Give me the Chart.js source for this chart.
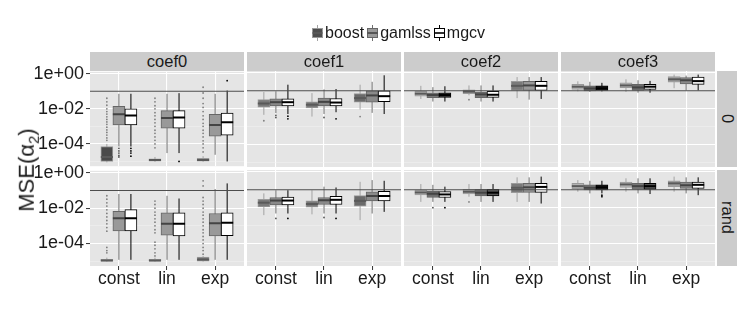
<!DOCTYPE html>
<html><head><meta charset="utf-8">
<script src="https://cdn.jsdelivr.net/npm/chart.js@4"></script>
<style>
html,body{margin:0;padding:0;background:#fff;}
#fig{position:relative;width:747px;height:312px;overflow:hidden;font-family:"Liberation Sans",Arial,Helvetica,sans-serif;}
#fig canvas{position:absolute;}
.strip{position:absolute;background:#cccccc;color:#1a1a1a;font-size:16.5px;display:flex;align-items:center;justify-content:center;}
.stripR{writing-mode:vertical-rl;}
#legend{position:absolute;left:312px;top:24px;height:18px;display:flex;align-items:center;font-size:16px;color:#1a1a1a;}
#legend .item{display:flex;align-items:center;margin-right:3px;}
#legend svg{margin-right:2px;}
#ytitle{position:absolute;left:28px;top:170px;transform:translate(-50%,-50%) rotate(-90deg);font-size:22px;white-space:nowrap;color:#1a1a1a;}
#ytitle sub{font-size:15px;}
</style></head>
<body><div id="fig"></div>
<script>
// ---------- data ----------
const coefs = ['coef0','coef1','coef2','coef3'];
const priors = ['0','rand'];
const categories = ['const','lin','exp'];
const methods = ['boost','gamlss','mgcv'];
const yMajorTicks = [1e-4, 1e-2, 1];
const yTickLabels = ['1e-04','1e-02','1e+00'];
const yMinorTicks = [1e-5, 1e-3, 1e-1];
const referenceMSE = 0.1;

// each row: [lower whisker, Q1, median, Q3, upper whisker] for const, lin, exp
const coef0_0_boost  = [[8.9e-6,1e-5,1.8e-5,7.1e-5,1e-4],[9.5e-6,1.05e-5,1.2e-5,1.4e-5,1.8e-5],[9.5e-6,1.05e-5,1.2e-5,1.5e-5,2e-5]];
const coef0_0_gamlss = [[7.1e-5,1.2e-3,4.9e-3,1.4e-2,7.2e-2],[3e-5,7.9e-4,3e-3,7.9e-3,7.2e-2],[2.4e-5,2.8e-4,1.2e-3,4.9e-3,7.2e-2]];
const coef0_0_mgcv   = [[7.1e-5,1.2e-3,4.1e-3,1e-2,7.2e-2],[3e-5,7.9e-4,3.2e-3,7.9e-3,7.8e-2],[1e-5,3.2e-4,1.7e-3,5.8e-3,0.11]];
const coef0_rand_boost  = [[9.5e-6,1e-5,1.1e-5,1.3e-5,1.6e-5],[9.5e-6,1e-5,1.1e-5,1.3e-5,1.6e-5],[9.5e-6,1e-5,1.26e-5,1.7e-5,2e-5]];
const coef0_rand_gamlss = [[1.2e-5,5.1e-4,2.7e-3,6.6e-3,6.3e-2],[1.2e-5,3e-4,1.3e-3,5.4e-3,5e-2],[1.2e-5,2.7e-4,1.4e-3,5e-3,0.12]];
const coef0_rand_mgcv   = [[1.2e-5,5.1e-4,2.7e-3,8.3e-3,6.3e-2],[1.2e-5,2.7e-4,1.3e-3,5.4e-3,3.5e-2],[1.2e-5,2.8e-4,1.5e-3,5.4e-3,0.25]];
const coef1_0_boost  = [[4.5e-3,1.2e-2,1.95e-2,3.2e-2,8.5e-2],[3.6e-3,1.1e-2,1.66e-2,2.4e-2,7.4e-2],[8.9e-3,2.3e-2,3.9e-2,7.1e-2,0.22]];
const coef1_0_gamlss = [[5.6e-3,1.4e-2,2.3e-2,3.5e-2,9.5e-2],[5e-3,1.4e-2,2.4e-2,3.9e-2,0.12],[5.8e-3,2.3e-2,5.5e-2,0.1,0.32]];
const coef1_0_mgcv   = [[5e-3,1.4e-2,2.3e-2,3.5e-2,0.22],[6.3e-3,1.4e-2,2.2e-2,3.7e-2,0.126],[5e-3,2.5e-2,5e-2,0.1,0.74]];
const coef1_rand_boost  = [[3.8e-3,1.1e-2,1.9e-2,2.9e-2,6.3e-2],[4.2e-3,1.07e-2,1.6e-2,2.4e-2,9.5e-2],[2e-3,1.2e-2,2.4e-2,4.7e-2,0.28]];
const coef1_rand_gamlss = [[4.7e-3,1.4e-2,2.5e-2,3.7e-2,9.5e-2],[4.7e-3,1.5e-2,2.6e-2,3.7e-2,0.15],[4.7e-3,2.4e-2,4.5e-2,7.8e-2,0.35]];
const coef1_rand_mgcv   = [[4.7e-3,1.4e-2,2.5e-2,3.9e-2,9.5e-2],[4.7e-3,1.5e-2,2.75e-2,4.3e-2,0.135],[5.8e-3,2.4e-2,4.5e-2,8.3e-2,0.32]];
const coef2_0_boost  = [[3.5e-2,5e-2,6.9e-2,9.3e-2,0.19],[5.6e-2,6.9e-2,8.9e-2,0.115,0.2],[3.9e-2,0.105,0.19,0.34,0.59]];
const coef2_0_gamlss = [[2.5e-2,4.1e-2,5.8e-2,7.8e-2,0.16],[2.5e-2,4.1e-2,6.3e-2,8.5e-2,0.2],[3.2e-2,0.105,0.2,0.34,0.59]];
const coef2_0_mgcv   = [[2.5e-2,4.3e-2,5.8e-2,7.8e-2,0.18],[2.5e-2,4.3e-2,6e-2,9.3e-2,0.2],[3.5e-2,0.105,0.19,0.34,0.59]];
const coef2_rand_boost  = [[2.1e-2,5.2e-2,7.1e-2,9.8e-2,0.21],[4.1e-2,5.8e-2,7.8e-2,0.105,0.21],[2.1e-2,6.9e-2,0.13,0.23,0.5]];
const coef2_rand_gamlss = [[2.1e-2,3.7e-2,6e-2,8.5e-2,0.19],[2.1e-2,4.5e-2,6.9e-2,0.105,0.21],[2.1e-2,7.2e-2,0.138,0.23,0.5]];
const coef2_rand_mgcv   = [[2.1e-2,3.7e-2,5.5e-2,7.9e-2,0.15],[2.1e-2,4.5e-2,6.9e-2,0.105,0.21],[1.7e-2,7.2e-2,0.145,0.23,0.55]];
const coef3_0_boost  = [[9.3e-2,0.12,0.17,0.23,0.34],[8.7e-2,0.148,0.2,0.28,0.44],[0.14,0.3,0.44,0.62,0.81]];
const coef3_0_gamlss = [[8.7e-2,9.8e-2,0.135,0.19,0.32],[7.8e-2,0.105,0.155,0.23,0.39],[0.105,0.24,0.39,0.55,0.71]];
const coef3_0_mgcv   = [[9.3e-2,0.105,0.138,0.19,0.28],[7.8e-2,0.12,0.17,0.23,0.36],[0.105,0.23,0.35,0.59,0.81]];
const coef3_rand_boost  = [[7.8e-2,0.115,0.16,0.23,0.35],[7.8e-2,0.138,0.2,0.275,0.44],[7.8e-2,0.148,0.23,0.32,0.55]];
const coef3_rand_gamlss = [[6.3e-2,9.8e-2,0.13,0.19,0.32],[6.3e-2,0.105,0.16,0.23,0.44],[6.3e-2,0.12,0.18,0.275,0.5]];
const coef3_rand_mgcv   = [[6.3e-2,9.8e-2,0.138,0.19,0.32],[5.8e-2,0.105,0.16,0.23,0.44],[5e-2,0.12,0.19,0.275,0.5]];

// outliers per category [const, lin, exp]
const coef0_0_boost_out = [[4e-2,2.5e-2,1.6e-2,1e-2,7e-3,5e-3,3.5e-3,2.5e-3,1.8e-3,1.3e-3,9e-4,6.3e-4,4.5e-4,3.2e-4,2.2e-4,1.6e-4],
  [4e-2,2.5e-2,1.5e-2,1e-2,6e-3,4e-3,2.5e-3,1.6e-3,1e-3,6e-4,4e-4,2.5e-4,1.6e-4,1e-4,6e-5],
  [1.7e-1,8e-2,4e-2,2e-2,1.2e-2,7e-3,4e-3,2.5e-3,1.5e-3,1e-3,6e-4,4e-4,2.5e-4,1.5e-4,1e-4,6e-5,3.5e-5]];
const coef0_0_gamlss_out = [[5.6e-5,4e-5,3e-5,2.2e-5,1.8e-5],[],[]];
const coef0_0_mgcv_out = [[5.6e-5,4e-5,3e-5,2e-5],[1e-5],[0.4]];
const coef0_rand_boost_out = [[5e-2,3.2e-2,2e-2,1.3e-2,8e-3,5e-3,3.2e-3,2e-3,1.3e-3,8e-4,5e-4,6e-5,4e-5,3e-5],
  [2.5e-2,1.6e-2,1e-2,6e-3,4e-3,2.5e-3,1.6e-3,1e-3,6e-4,4e-4,1.2e-4,8e-5,5e-5,3e-5,2e-5],
  [3.5e-1,1.8e-1,4e-2,2.5e-2,1.6e-2,1e-2,6e-3,4e-3,2.5e-3,1.6e-3,1e-3,6e-4,4e-4,2.5e-4,1.6e-4,1e-4,6e-5,4e-5,2.5e-5]];
const coef0_rand_gamlss_out = [[],[],[]];
const coef0_rand_mgcv_out = [[],[],[]];
const coef1_0_boost_out = [[2.1e-3],[],[3.6e-3]];
const coef1_0_gamlss_out = [[4.2e-3,3.2e-3],[3.2e-3],[]];
const coef1_0_mgcv_out = [[3.8e-3,2.7e-3],[2.7e-3],[]];
const coef1_rand_boost_out = [[],[],[]];
const coef1_rand_gamlss_out = [[2.5e-3],[2.8e-3],[]];
const coef1_rand_mgcv_out = [[2.5e-3],[2.5e-3],[]];
const coef2_0_boost_out = [[],[3.2e-2],[]];
const coef2_0_gamlss_out = [[],[],[]];
const coef2_0_mgcv_out = [[],[],[]];
const coef2_rand_boost_out = [[],[2.1e-2],[]];
const coef2_rand_gamlss_out = [[1e-2],[],[]];
const coef2_rand_mgcv_out = [[1e-2],[],[]];
const coef3_0_boost_out = [[],[],[]];
const coef3_0_gamlss_out = [[],[],[]];
const coef3_0_mgcv_out = [[],[],[]];
const coef3_rand_boost_out = [[],[],[]];
const coef3_rand_gamlss_out = [[],[],[]];
const coef3_rand_mgcv_out = [[5e-2,4.1e-2],[],[]];

// lookup tables built from the named arrays
const statsTable = {
  coef0: {'0': {boost: coef0_0_boost, gamlss: coef0_0_gamlss, mgcv: coef0_0_mgcv},
          'rand': {boost: coef0_rand_boost, gamlss: coef0_rand_gamlss, mgcv: coef0_rand_mgcv}},
  coef1: {'0': {boost: coef1_0_boost, gamlss: coef1_0_gamlss, mgcv: coef1_0_mgcv},
          'rand': {boost: coef1_rand_boost, gamlss: coef1_rand_gamlss, mgcv: coef1_rand_mgcv}},
  coef2: {'0': {boost: coef2_0_boost, gamlss: coef2_0_gamlss, mgcv: coef2_0_mgcv},
          'rand': {boost: coef2_rand_boost, gamlss: coef2_rand_gamlss, mgcv: coef2_rand_mgcv}},
  coef3: {'0': {boost: coef3_0_boost, gamlss: coef3_0_gamlss, mgcv: coef3_0_mgcv},
          'rand': {boost: coef3_rand_boost, gamlss: coef3_rand_gamlss, mgcv: coef3_rand_mgcv}}
};
const outTable = {
  coef0: {'0': {boost: coef0_0_boost_out, gamlss: coef0_0_gamlss_out, mgcv: coef0_0_mgcv_out},
          'rand': {boost: coef0_rand_boost_out, gamlss: coef0_rand_gamlss_out, mgcv: coef0_rand_mgcv_out}},
  coef1: {'0': {boost: coef1_0_boost_out, gamlss: coef1_0_gamlss_out, mgcv: coef1_0_mgcv_out},
          'rand': {boost: coef1_rand_boost_out, gamlss: coef1_rand_gamlss_out, mgcv: coef1_rand_mgcv_out}},
  coef2: {'0': {boost: coef2_0_boost_out, gamlss: coef2_0_gamlss_out, mgcv: coef2_0_mgcv_out},
          'rand': {boost: coef2_rand_boost_out, gamlss: coef2_rand_gamlss_out, mgcv: coef2_rand_mgcv_out}},
  coef3: {'0': {boost: coef3_0_boost_out, gamlss: coef3_0_gamlss_out, mgcv: coef3_0_mgcv_out},
          'rand': {boost: coef3_rand_boost_out, gamlss: coef3_rand_gamlss_out, mgcv: coef3_rand_mgcv_out}}
};

// ---------- styles ----------
const W = '#ffffff';
const boxFills = {
  coef0: {'0': {boost:['#4a4a4a','#8c8c8c','#8c8c8c'], gamlss:['#999999','#999999','#999999'], mgcv:[W,W,W]},
          'rand': {boost:['#9a9a9a','#9a9a9a','#7a7a7a'], gamlss:['#999999','#999999','#999999'], mgcv:[W,W,W]}},
  coef1: {'0': {boost:['#7a7a7a','#7a7a7a','#6a6a6a'], gamlss:['#8a8a8a','#8a8a8a','#8a8a8a'], mgcv:[W,W,W]},
          'rand': {boost:['#7a7a7a','#7a7a7a','#6a6a6a'], gamlss:['#8a8a8a','#8a8a8a','#8a8a8a'], mgcv:[W,W,W]}},
  coef2: {'0': {boost:['#b3b3b3','#b3b3b3','#7a7a7a'], gamlss:['#777777','#777777','#999999'], mgcv:['#444444',W,W]},
          'rand': {boost:['#b3b3b3','#b3b3b3','#7a7a7a'], gamlss:['#6e6e6e','#6e6e6e','#999999'], mgcv:[W,'#555555',W]}},
  coef3: {'0': {boost:['#b3b3b3','#b3b3b3','#a0a0a0'], gamlss:['#6e6e6e','#6e6e6e','#8a8a8a'], mgcv:['#222222',W,W]},
          'rand': {boost:['#b3b3b3','#b3b3b3','#a0a0a0'], gamlss:['#777777','#777777','#8a8a8a'], mgcv:['#222222','#555555',W]}}
};
const methodStyle = {
  boost:  {line:'#a3a3a3', dot:'#7f7f7f', border:'#9a9a9a', median:'#5a5a5a', offset:-0.25, order:10, key:'#4d4d4d'},
  gamlss: {line:'#6e6e6e', dot:'#555555', border:'#666666', median:'#444444', offset:0,     order:6,  key:'#999999'},
  mgcv:   {line:'#000000', dot:'#000000', border:'#000000', median:'#000000', offset:0.25,  order:2,  key:'#ffffff'}
};
const X_MIN = 0.4, X_MAX = 3.6, BOX_W = 0.25;
const Y_MIN = Math.pow(10, -5.27), Y_MAX = Math.pow(10, 0.11);
const PAD = 12, Y_AXIS_W = 78, X_AXIS_H = 30;
const COL_LEFT = [90, 247, 404, 561], PANEL_W = 154;
const ROW_TOP = [71, 170], PANEL_H = 96;
const FONT = '"Liberation Sans", Arial, Helvetica, sans-serif';
const xTickValues = [1, 2, 3];
const yGridValues = [1e-5, 1e-4, 1e-3, 1e-2, 1e-1, 1];

const panelBg = {
  id: 'panelBg',
  beforeDraw(chart) {
    const a = chart.chartArea, ctx = chart.ctx;
    ctx.save(); ctx.fillStyle = '#e5e5e5';
    ctx.fillRect(a.left, a.top, a.right - a.left, a.bottom - a.top);
    ctx.restore();
  }
};

function buildDatasets(coef, prior) {
  const ds = [];
  const boxPx = PANEL_W / (X_MAX - X_MIN) * BOX_W;
  methods.forEach(m => {
    const st = methodStyle[m];
    const s = statsTable[coef][prior][m];
    const outs = outTable[coef][prior][m];
    const xs = categories.map((c, i) => xTickValues[i] + st.offset);
    ds.push({
      type: 'scatter', showLine: true, spanGaps: false, order: st.order + 3,
      borderColor: st.line, borderWidth: 1, pointRadius: 0,
      data: xs.flatMap((x, i) => [{x, y: s[i][0]}, {x, y: s[i][4]}, {x, y: null}])
    });
    ds.push({
      type: 'scatter', order: st.order + 2, pointRadius: 0.9, pointBorderWidth: 0,
      pointBackgroundColor: st.dot, borderColor: st.dot,
      data: xs.flatMap((x, i) => outs[i].map(v => ({x, y: v})))
    });
    ds.push({
      type: 'bar', grouped: false, order: st.order + 1, barThickness: boxPx,
      borderSkipped: false, borderWidth: 1, borderColor: st.border,
      backgroundColor: boxFills[coef][prior][m],
      data: xs.map((x, i) => ({x, y: [s[i][1], s[i][3]]}))
    });
    ds.push({
      type: 'scatter', order: st.order, pointStyle: 'line', pointRadius: boxPx / 2,
      pointBorderWidth: 2, pointBorderColor: st.median, borderColor: st.median,
      data: xs.map((x, i) => ({x, y: s[i][2]}))
    });
  });
  ds.push({
    type: 'scatter', showLine: true, order: 0, borderColor: '#4d4d4d', borderWidth: 1.1, pointRadius: 0,
    data: [{x: X_MIN, y: referenceMSE}, {x: X_MAX, y: referenceMSE}]
  });
  return ds;
}

const fig = document.getElementById('fig');

coefs.forEach((coef, c) => priors.forEach((prior, r) => {
  const showY = c === 0, showX = r === 1;
  const axW = showY ? Y_AXIS_W : 0, axH = showX ? X_AXIS_H : 0;
  const cv = document.createElement('canvas');
  cv.width = PAD * 2 + axW + PANEL_W;
  cv.height = PAD * 2 + PANEL_H + axH;
  cv.style.left = (COL_LEFT[c] - PAD - axW) + 'px';
  cv.style.top = (ROW_TOP[r] - PAD) + 'px';
  fig.appendChild(cv);
  new Chart(cv, {
    type: 'bar',
    data: { datasets: buildDatasets(coef, prior) },
    plugins: [panelBg],
    options: {
      responsive: false, animation: false, events: [],
      layout: { padding: PAD },
      plugins: { legend: {display: false}, tooltip: {enabled: false}, title: {display: false} },
      scales: {
        x: {
          type: 'linear', min: X_MIN, max: X_MAX, offset: false, bounds: 'data',
          afterBuildTicks: s => { s.ticks = xTickValues.map(v => ({value: v})); },
          afterFit: s => { s.height = axH; },
          border: { display: false },
          grid: { color: '#ffffff', lineWidth: 1.1, offset: false, drawTicks: showX, tickLength: 4, tickColor: '#333333', tickWidth: 1 },
          ticks: { display: showX, autoSkip: false, maxRotation: 0, padding: 0,
                   font: { family: FONT, size: 17.5, lineHeight: 1 }, color: '#1a1a1a',
                   callback: v => categories[xTickValues.indexOf(v)] }
        },
        y: {
          type: 'logarithmic', min: Y_MIN, max: Y_MAX, bounds: 'data',
          afterBuildTicks: s => { s.ticks = yGridValues.map(v => ({value: v})); },
          afterFit: s => { s.width = axW; },
          border: { display: false },
          grid: {
            color: ctx => (ctx.tick && yMinorTicks.includes(ctx.tick.value)) ? '#f2f2f2' : '#ffffff',
            lineWidth: ctx => (ctx.tick && yMinorTicks.includes(ctx.tick.value)) ? 0.5 : 1.1,
            drawTicks: showY, tickLength: 4, tickWidth: 1,
            tickColor: ctx => (ctx.tick && yMajorTicks.includes(ctx.tick.value)) ? '#333333' : 'rgba(0,0,0,0)'
          },
          ticks: { display: showY, autoSkip: false, padding: 2,
                   font: { family: FONT, size: 18 }, color: '#1a1a1a',
                   callback: v => { const i = yMajorTicks.indexOf(v); return i >= 0 ? yTickLabels[i] : ''; } }
        }
      }
    }
  });
}));

// strips
coefs.forEach((coef, c) => {
  const d = document.createElement('div');
  d.className = 'strip';
  d.style.left = COL_LEFT[c] + 'px'; d.style.top = '52px';
  d.style.width = PANEL_W + 'px'; d.style.height = '19px';
  d.textContent = coef;
  fig.appendChild(d);
});
priors.forEach((p, r) => {
  const d = document.createElement('div');
  d.className = 'strip stripR';
  d.style.left = '717px'; d.style.top = ROW_TOP[r] + 'px';
  d.style.width = '20px'; d.style.height = PANEL_H + 'px';
  d.textContent = p;
  fig.appendChild(d);
});

// legend
const lg = document.createElement('div');
lg.id = 'legend';
methods.forEach(m => {
  const st = methodStyle[m];
  const it = document.createElement('div');
  it.className = 'item';
  it.innerHTML = '<svg width="11" height="16" viewBox="0 0 11 16">' +
    '<line x1="5.5" y1="0" x2="5.5" y2="16" stroke="' + st.line + '" stroke-width="1"/>' +
    '<rect x="0.5" y="3.5" width="10" height="9" fill="' + st.key + '" stroke="' + st.border + '" stroke-width="1"/>' +
    '<line x1="0.5" y1="8" x2="10.5" y2="8" stroke="' + st.median + '" stroke-width="1.6"/></svg>';
  const t = document.createElement('span');
  t.textContent = m;
  it.appendChild(t);
  lg.appendChild(it);
});
fig.appendChild(lg);

const yt = document.createElement('div');
yt.id = 'ytitle';
yt.innerHTML = 'MSE(α<sub>2</sub>)';
fig.appendChild(yt);
</script>
</body></html>
